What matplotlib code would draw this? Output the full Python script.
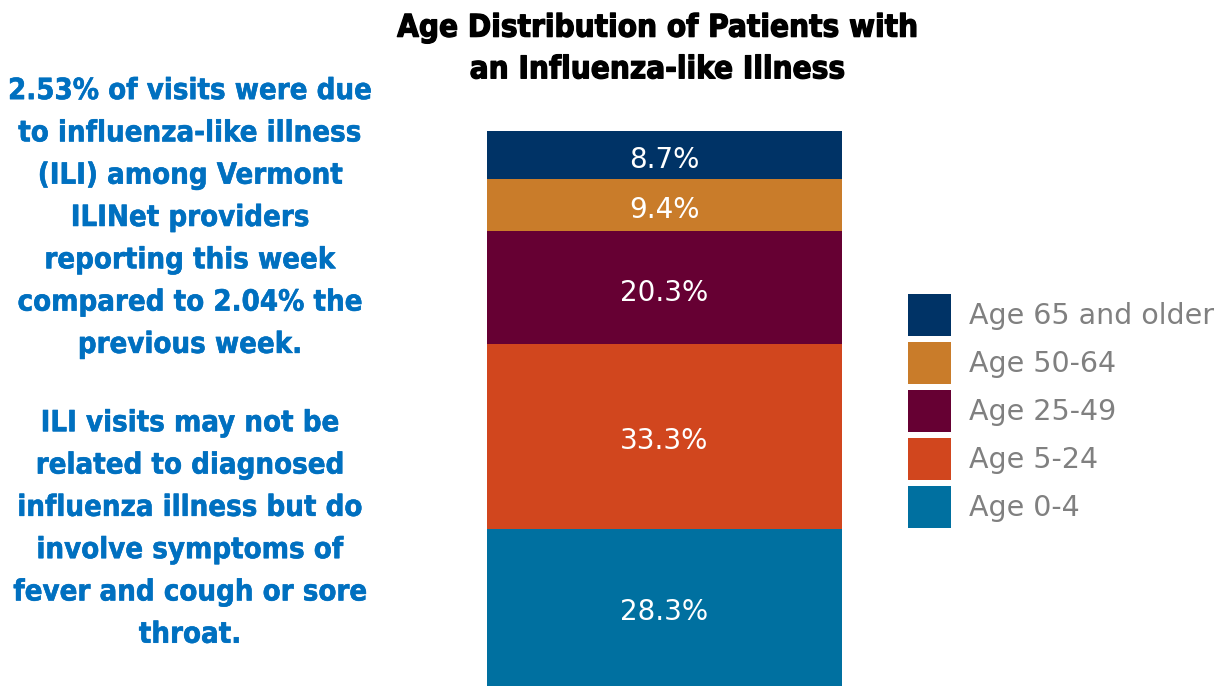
import matplotlib
matplotlib.use('Agg')
import matplotlib.pyplot as plt
from matplotlib import font_manager
import matplotlib.patheffects as pe

#age groups from bottom of the bar to the top
ageGroups = ['Age 0-4', 'Age 5-24', 'Age 25-49', 'Age 50-64', 'Age 65 and older']
percents = [28.3, 33.3, 20.3, 9.4, 8.7]
barColors = ['#0070A0', '#D1461E', '#660033', '#C97C2A', '#003366']

titleText = 'Age Distribution of Patients with\nan Influenza-like Illness'
summaryText = ('2.53% of visits were due\nto influenza-like illness\n(ILI) among Vermont\n'
               'ILINet providers\nreporting this week\ncompared to 2.04% the\nprevious week.')
noteText = ('ILI visits may not be\nrelated to diagnosed\ninfluenza illness but do\n'
            'involve symptoms of\nfever and cough or sore\nthroat.')

#look for a bold condensed font, the reference uses a narrow heavy face
condensedFile = None
for f in font_manager.fontManager.ttflist:
    isNarrow = ('Condensed' in f.name or 'Narrow' in f.name
                or 'condensed' in str(f.stretch) or f.fname.lower().find('condensed') >= 0)
    wt = f.weight if isinstance(f.weight, int) else 400
    if isNarrow and wt >= 600 and 'oblique' not in f.style and 'italic' not in f.style:
        condensedFile = f.fname
        break

if condensedFile:
    boldNarrow = font_manager.FontProperties(fname=condensedFile)
    leftSize, titleSize = 21, 22.5
else:
    boldNarrow = font_manager.FontProperties(family='DejaVu Sans', weight='bold')
    leftSize, titleSize = 18, 20.5

fig = plt.figure(figsize=(12.19, 6.86), dpi=100)

#axes placed so the bar fills it exactly
ax = fig.add_axes([487 / 1219, 0, 355 / 1219, (686 - 131) / 686])
bottom = 0
bars = []
for group, pct, color in zip(ageGroups, percents, barColors):
    b = ax.bar(0, pct, width=1, bottom=bottom, color=color, label=group)
    bars.append(b)
    ax.annotate(f'{pct}%', (0, bottom + pct / 2), xytext=(0, -3.5),
                textcoords='offset points', ha='center', va='center',
                color='white', fontsize=20, family='DejaVu Sans')
    bottom += pct
ax.set_xlim(-0.5, 0.5)
ax.set_ylim(0, sum(percents))
ax.axis('off')

#heavy title, a thin stroke makes the bold look blacker
fig.text(658 / 1219, 1 - 49 / 686, titleText, ha='center', va='center',
         fontproperties=boldNarrow, fontsize=titleSize, linespacing=1.55,
         path_effects=[pe.withStroke(linewidth=0.9, foreground='black')])

fig.text(190 / 1219, 1 - 218 / 686, summaryText, ha='center', va='center',
         fontproperties=boldNarrow, fontsize=leftSize, color='#0070C0', linespacing=1.65,
         path_effects=[pe.withStroke(linewidth=0.4, foreground='#0070C0')])
fig.text(190 / 1219, 1 - 529 / 686, noteText, ha='center', va='center',
         fontproperties=boldNarrow, fontsize=leftSize, color='#0070C0', linespacing=1.65,
         path_effects=[pe.withStroke(linewidth=0.4, foreground='#0070C0')])

#legend with the oldest group on top like the bar
leg = fig.legend(handles=bars[::-1], labels=ageGroups[::-1], loc='center left',
                 bbox_to_anchor=(882 / 1219, 1 - 411 / 686), frameon=False,
                 fontsize=20.5, handlelength=1.54, handleheight=1.89,
                 labelspacing=0.21, handletextpad=0.6)
for t in leg.get_texts():
    t.set_color('#808080')

fig.savefig('out.png', dpi=100)
